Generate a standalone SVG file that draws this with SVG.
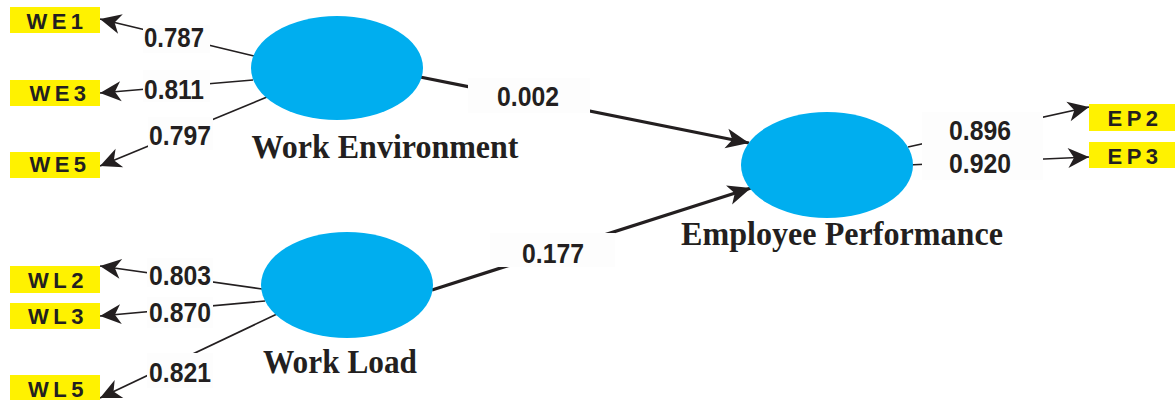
<svg xmlns="http://www.w3.org/2000/svg" width="1175" height="400" viewBox="0 0 1175 400">
  <style>
    .lat { fill: #00AEEF; }
    .ind { fill: #FFF200; }
    .ind-t { font-family: "Liberation Sans", Arial, sans-serif; font-weight: bold; font-size: 22px; fill: #231F20; text-anchor: middle; letter-spacing: 4.5px; }
    .lat-t { font-family: "Liberation Serif", "Times New Roman", serif; font-weight: bold; font-size: 34px; fill: #231F20; text-anchor: middle; }
    .thin { stroke: #231F20; stroke-width: 1.7; fill: none; marker-end: url(#head); }
    .thick { stroke: #231F20; stroke-width: 3.3; fill: none; marker-end: url(#head-big); }
    .lbl-bg { fill: #FDFDFD; }
    .lbl { font-family: "Liberation Sans", Arial, sans-serif; font-weight: bold; font-size: 27px; fill: #231F20; text-anchor: middle; }
  </style>
  <defs>
    <marker id="head" markerUnits="userSpaceOnUse" markerWidth="22" markerHeight="22" refX="21" refY="10" orient="auto" overflow="visible">
      <path d="M0,0 L21,10 L0,20 L6,10 Z" fill="#231F20"/>
    </marker>
    <marker id="head-big" markerUnits="userSpaceOnUse" markerWidth="24" markerHeight="22" refX="23" refY="10" orient="auto" overflow="visible">
      <path d="M0,0 L23,10 L0,20 L6,10 Z" fill="#231F20"/>
    </marker>
  </defs>

  <rect width="1175" height="400" fill="#FFFFFF"/>

  <!-- paths and loadings -->
  <g id="connectors">
    <line class="thin" x1="254" y1="56" x2="100" y2="19"/>
    <line class="thin" x1="253" y1="80" x2="100" y2="93"/>
    <line class="thin" x1="267" y1="97" x2="100" y2="166"/>
    <line class="thin" x1="262" y1="289" x2="100" y2="266"/>
    <line class="thin" x1="265" y1="301" x2="100" y2="316"/>
    <line class="thin" x1="277" y1="314" x2="100" y2="398"/>
    <line class="thick" x1="420" y1="77" x2="749" y2="143"/>
    <line class="thick" x1="432" y1="290" x2="751" y2="188"/>
    <line class="thin" x1="908" y1="147" x2="1089" y2="107"/>
    <line class="thin" x1="908" y1="165" x2="1089" y2="157"/>

    <rect class="lbl-bg" x="143" y="25" width="67" height="28"/>
    <rect class="lbl-bg" x="143" y="70" width="67" height="32"/>
    <rect class="lbl-bg" x="148" y="117" width="65" height="33"/>
    <rect class="lbl-bg" x="147" y="258" width="66" height="29"/>
    <rect class="lbl-bg" x="147" y="297" width="66" height="31"/>
    <rect class="lbl-bg" x="147" y="353" width="66" height="35"/>
    <rect class="lbl-bg" x="468" y="78" width="122" height="35"/>
    <rect class="lbl-bg" x="490" y="233" width="125" height="34"/>
    <rect class="lbl-bg" x="922" y="112" width="121" height="68"/>

    <text class="lbl" x="174" y="47" textLength="60" lengthAdjust="spacingAndGlyphs">0.787</text>
    <text class="lbl" x="174" y="99" textLength="60" lengthAdjust="spacingAndGlyphs">0.811</text>
    <text class="lbl" x="180" y="145" textLength="62" lengthAdjust="spacingAndGlyphs">0.797</text>
    <text class="lbl" x="180" y="285" textLength="62" lengthAdjust="spacingAndGlyphs">0.803</text>
    <text class="lbl" x="180" y="322" textLength="62" lengthAdjust="spacingAndGlyphs">0.870</text>
    <text class="lbl" x="180" y="382" textLength="62" lengthAdjust="spacingAndGlyphs">0.821</text>
    <text class="lbl" x="528" y="106" textLength="62" lengthAdjust="spacingAndGlyphs">0.002</text>
    <text class="lbl" x="553" y="263" textLength="62" lengthAdjust="spacingAndGlyphs">0.177</text>
    <text class="lbl" x="980" y="140" textLength="62" lengthAdjust="spacingAndGlyphs">0.896</text>
    <text class="lbl" x="980" y="173" textLength="62" lengthAdjust="spacingAndGlyphs">0.920</text>
  </g>

  <!-- latent variables -->
  <g id="work-environment">
    <ellipse class="lat" cx="337" cy="68" rx="86" ry="52"/>
    <text class="lat-t" x="385" y="158" textLength="267" lengthAdjust="spacingAndGlyphs">Work Environment</text>
  </g>
  <g id="work-load">
    <ellipse class="lat" cx="347" cy="285" rx="86" ry="53"/>
    <text class="lat-t" x="340" y="373" textLength="154" lengthAdjust="spacingAndGlyphs">Work Load</text>
  </g>
  <g id="employee-performance">
    <ellipse class="lat" cx="827" cy="165" rx="86" ry="53"/>
    <text class="lat-t" x="842" y="245" textLength="322" lengthAdjust="spacingAndGlyphs">Employee Performance</text>
  </g>

  <!-- indicators -->
  <g id="WE1"><rect class="ind" x="10" y="7" width="90" height="26"/><text class="ind-t" x="57" y="29">WE1</text></g>
  <g id="WE3"><rect class="ind" x="10" y="80" width="90" height="26"/><text class="ind-t" x="60" y="101">WE3</text></g>
  <g id="WE5"><rect class="ind" x="10" y="152" width="90" height="26"/><text class="ind-t" x="60" y="172">WE5</text></g>
  <g id="WL2"><rect class="ind" x="10" y="266" width="90" height="27"/><text class="ind-t" x="58" y="288">WL2</text></g>
  <g id="WL3"><rect class="ind" x="10" y="303" width="90" height="26"/><text class="ind-t" x="58" y="324">WL3</text></g>
  <g id="WL5"><rect class="ind" x="10" y="375" width="90" height="26"/><text class="ind-t" x="58" y="397">WL5</text></g>
  <g id="EP2"><rect class="ind" x="1089" y="104" width="90" height="27"/><text class="ind-t" x="1135" y="126">EP2</text></g>
  <g id="EP3"><rect class="ind" x="1089" y="142" width="90" height="26"/><text class="ind-t" x="1135" y="164">EP3</text></g>
</svg>
